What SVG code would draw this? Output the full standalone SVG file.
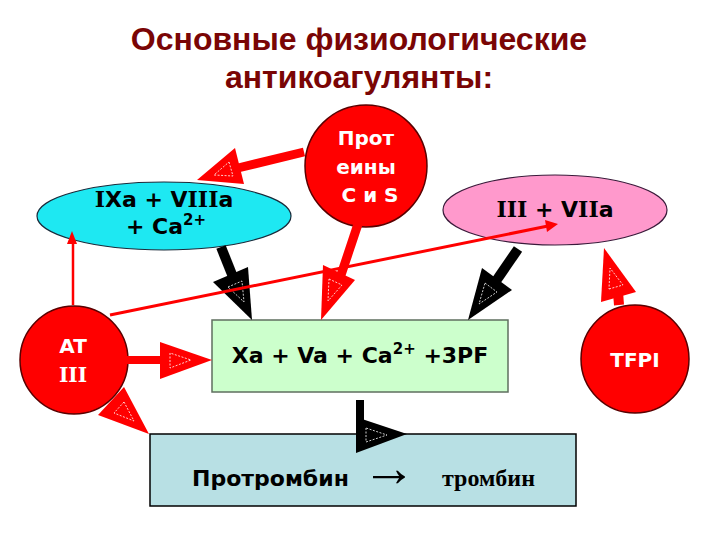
<svg xmlns="http://www.w3.org/2000/svg" width="720" height="540" viewBox="0 0 720 540">
<style>
.title{font-family:"Liberation Sans",Arial,sans-serif;font-weight:bold;font-size:32px;fill:#7a0505;text-anchor:middle}
.lbl{font-family:"DejaVu Sans",Verdana,sans-serif;font-weight:bold;font-size:22px;fill:#000;text-anchor:middle}
.wl{font-family:"DejaVu Sans",Verdana,sans-serif;font-weight:bold;font-size:20px;fill:#fff;text-anchor:middle}
.ser{font-family:"DejaVu Serif",Georgia,serif}
.circ{fill:#ff0000;stroke:#5a0000;stroke-width:1.5}
.red{fill:#ff0000}
.blk{fill:#000}
.rs{stroke:#ff0000;fill:none}
.bs{stroke:#000;fill:none}
.dash{fill:none;stroke:#fff;stroke-width:0.8;stroke-dasharray:2 1.5}
.sup{font-size:15px}
</style>
<g id="title">
<text class="title" x="359" y="50">Основные физиологические</text>
<text class="title" x="359" y="88">антикоагулянты:</text>
</g>
<g id="node-ixa">
<ellipse cx="164" cy="216" rx="127" ry="34" fill="#1ee8f2" stroke="#1a2a3a" stroke-width="1.2"/>
<text class="lbl" x="164" y="207"><tspan class="ser">I</tspan>Xa + V<tspan class="ser">III</tspan>a</text>
<text class="lbl" x="166" y="234">+ Ca<tspan class="sup" dy="-9">2+</tspan></text>
</g>
<g id="node-iii">
<ellipse cx="555" cy="210" rx="112" ry="35" fill="#ff99cc" stroke="#3a1a3a" stroke-width="1.2"/>
<text class="lbl" x="555" y="217"><tspan class="ser">III</tspan> + V<tspan class="ser">II</tspan>a</text>
</g>
<g id="node-proteins">
<circle class="circ" cx="366" cy="166" r="61"/>
<text class="wl" x="366" y="145">Прот</text>
<text class="wl" x="366" y="174">еины</text>
<text class="wl" x="370" y="202">С и S</text>
</g>
<g id="node-xa">
<rect x="212" y="320" width="296" height="72" fill="#ccffcc" stroke="#5f6f5f" stroke-width="1.5"/>
<text class="lbl" x="360" y="363">Xa + Va + Ca<tspan class="sup" dy="-9">2+</tspan><tspan dy="9"> +3PF</tspan></text>
</g>
<g id="node-at">
<circle class="circ" cx="74" cy="360" r="54"/>
<text class="wl" x="73" y="353" font-size="21">AT</text>
<text class="wl ser" x="73" y="382" font-size="21">III</text>
</g>
<g id="node-tfpi">
<circle class="circ" cx="635" cy="359" r="54"/>
<text class="wl" x="635" y="367" font-size="22">TFPI</text>
</g>
<g id="node-prothrombin">
<rect x="150" y="434" width="426" height="72" fill="#b8e0e4" stroke="#000" stroke-width="1.5"/>
<text x="192" y="486" font-family="DejaVu Sans,Verdana,sans-serif" font-weight="bold" font-size="22" fill="#000">Протромбин</text>
<text x="362" y="486" font-family="Liberation Serif,Times New Roman,serif" font-size="54" fill="#000">→</text>
<text x="442" y="486" font-family="Liberation Serif,Times New Roman,serif" font-weight="bold" font-size="24" fill="#000">тромбин</text>
</g>
<g id="connectors">
<line class="rs" x1="304" y1="152" x2="238" y2="168" stroke-width="9"/>
<polygon class="red" points="235,148 244,184 197,180"/>
<polygon class="dash" points="229,162 233,176 214,175"/>
<line class="rs" x1="358" y1="224" x2="341" y2="275" stroke-width="9"/>
<polygon class="red" points="323,265 355,280 321,320"/>
<polygon class="dash" points="329,279 342,285 328,301"/>
<line class="bs" x1="221" y1="247" x2="233" y2="277" stroke-width="10"/>
<polygon class="blk" points="213,282 248,267 252,320"/>
<polygon class="dash" points="228,287 242,281 244,302"/>
<line class="bs" x1="518" y1="249" x2="496" y2="281" stroke-width="10"/>
<polygon class="blk" points="482,268 512,290 468,320"/>
<polygon class="dash" points="485,283 497,292 479,304"/>
<line class="rs" x1="619" y1="305" x2="618" y2="292" stroke-width="10"/>
<polygon class="red" points="601,302 636,292 604,248"/>
<polygon class="dash" points="609,289 623,285 610,268"/>
<line class="rs" x1="126" y1="360" x2="163" y2="360" stroke-width="8"/>
<polygon class="red" points="160,342 160,379 212,360"/>
<polygon class="dash" points="170,353 170,368 191,360"/>
<polygon class="red" points="98,415 124,387 149,434"/>
<polygon class="dash" points="124,402 114,413 134,421"/>
<rect class="blk" x="356" y="400" width="8" height="34"/>
<polygon class="blk" points="356,417 407,434 356,453"/>
<polygon class="dash" points="366,428 366,442 387,435"/>
<line class="rs" x1="73" y1="305" x2="73" y2="240" stroke-width="2.5"/>
<polygon class="red" points="72,231 67,244 77,244"/>
<line class="rs" x1="110" y1="315" x2="548" y2="226" stroke-width="3"/>
<polygon class="red" points="558,224 545,220 547,232"/>
</g>
</svg>
